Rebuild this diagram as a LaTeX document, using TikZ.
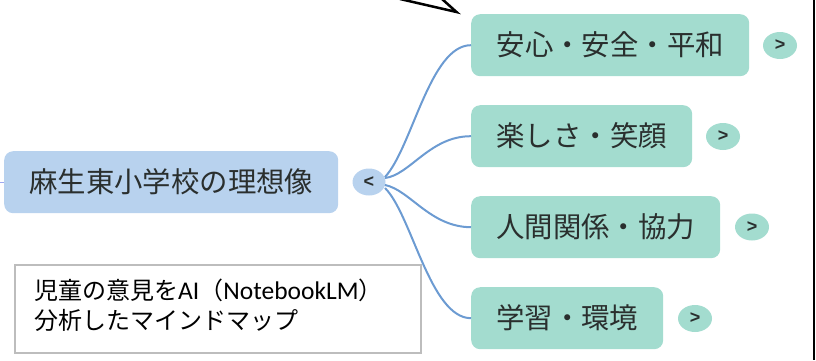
\documentclass[tikz,border=0pt]{standalone}
\usepackage{fontspec}
\setmainfont{Noto Sans CJK JP}
\newfontfamily\latinfont{Carlito}
\newfontfamily\togglefont{Liberation Sans}
\usetikzlibrary{shapes.geometric}
\definecolor{teal1}{HTML}{A3DCCF}
\definecolor{blue1}{HTML}{B8D2EE}
\definecolor{link1}{HTML}{6C9BD2}
\definecolor{txt1}{HTML}{2A2F2E}
\definecolor{boxedge}{HTML}{BDBDBD}
\definecolor{stubc}{HTML}{9DA8F0}
\tikzset{
  topic/.style={fill=teal1,rounded corners=9pt,inner sep=0pt,anchor=north west,text=txt1,font=\fontsize{28.4}{28}\selectfont,align=center},
  root/.style={fill=blue1,rounded corners=9pt,inner sep=0pt,anchor=north west,text=txt1,font=\fontsize{28.4}{28}\selectfont,align=center},
  toggle/.style={ellipse,fill=teal1,minimum width=34pt,minimum height=27pt,inner sep=0pt,font=\togglefont\bfseries\fontsize{18}{18}\selectfont,text=txt1},
  linkline/.style={draw=link1,line width=2pt},
}
\begin{document}
\begin{tikzpicture}[x=1pt,y=-1pt]
\useasboundingbox (0,0) rectangle (816,360);
\coordinate (stub) at (0,182);
\draw[draw=stubc,line width=1pt] (stub) -- (4,182);
\node[root,minimum width=334pt,minimum height=62pt] (r) at (4,151) {\raisebox{3pt}{麻生東小学校の理想像}};
\node[toggle,fill=blue1,minimum width=33pt,minimum height=27pt] (rt) at (369,182) {<};
\node[topic,minimum width=278pt,minimum height=62pt] (a) at (471,14) {\raisebox{3pt}{安心・安全・平和}};
\node[topic,minimum width=221pt,minimum height=62pt] (b) at (471,105) {\raisebox{3pt}{楽しさ・笑顔}};
\node[topic,minimum width=249pt,minimum height=62pt] (c) at (471,196) {\raisebox{3pt}{人間関係・協力}};
\node[topic,minimum width=192pt,minimum height=62pt] (d) at (471,287) {\raisebox{3pt}{学習・環境}};
\node[toggle] (at) at (780,45.5) {>};
\node[toggle] (bt) at (723,136.5) {>};
\node[toggle] (ct) at (752,227) {>};
\node[toggle] (dt) at (695,318.5) {>};
\coordinate (rr1) at (385,177);
\coordinate (rr2) at (385,178);
\coordinate (rr3) at (385,185);
\coordinate (rr4) at (385,188);
\draw[linkline] (rr1) .. controls (412,148) and (430,45) .. (a.west);
\draw[linkline] (rr2) .. controls (410,175) and (430,136) .. (b.west);
\draw[linkline] (rr3) .. controls (410,190) and (430,227) .. (c.west);
\draw[linkline] (rr4) .. controls (412,215) and (430,318) .. (d.west);
\node[draw=boxedge,line width=1.5pt,fill=white,anchor=north west,minimum width=406pt,minimum height=88pt,inner sep=0pt] (note) at (14,264) {};
\node[anchor=north west,inner sep=0pt,align=left,font=\fontsize{24}{30}\selectfont,text=black] (notetext) at (34,279) {児童の意見を{\latinfont\fontsize{25.5}{30}\selectfont AI}（{\latinfont\fontsize{25.5}{30}\selectfont NotebookLM}）\\分析したマインドマップ};
\coordinate (c1) at (400,-1);
\coordinate (c2) at (456.5,12);
\coordinate (c3) at (442,-1);
\draw[black,line width=2.5pt,line join=miter] (c1) -- (c2) -- (c3);
\coordinate (e1) at (813.5,0);
\coordinate (e2) at (813.5,360);
\draw[black,line width=2pt] (e1) -- (e2);
\end{tikzpicture}
\end{document}
